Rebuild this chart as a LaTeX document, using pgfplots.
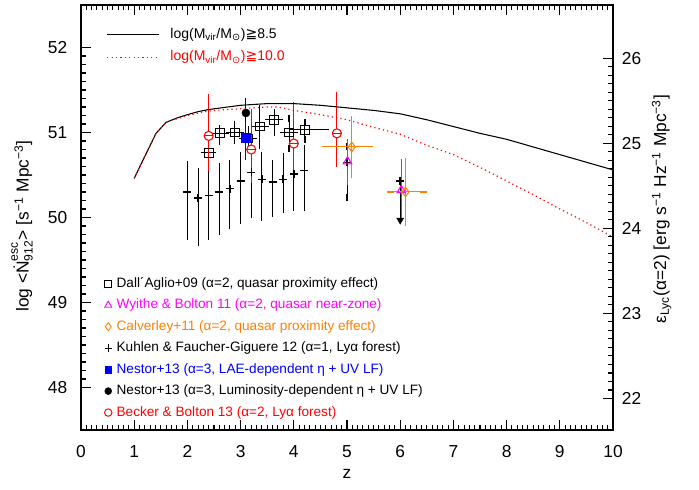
\documentclass[border=0pt]{standalone}
\usepackage{fontspec}
\setmainfont{Liberation Sans}
\newfontfamily\symfont{DejaVu Sans}
\usepackage{amsmath}
\usepackage{pgfplots}
\usepackage{pgfplotstable}
\usetikzlibrary{plotmarks}
\pgfplotsset{compat=1.18}

\definecolor{bbred}{RGB}{255,0,0}
\definecolor{wbmag}{RGB}{255,0,255}
\definecolor{calor}{RGB}{255,128,0}
\definecolor{nesblue}{RGB}{0,0,255}

% circle with a horizontal bar through it
\pgfdeclareplotmark{ominus}{%
  \pgfpathcircle{\pgfpointorigin}{\pgfplotmarksize}%
  \pgfusepathqfillstroke
  \pgfpathmoveto{\pgfpoint{-\pgfplotmarksize}{0pt}}%
  \pgfpathlineto{\pgfpoint{\pgfplotmarksize}{0pt}}%
  \pgfusepathqstroke
}

% model emissivity, two halo-mass thresholds
\pgfplotstableread{
z    v
1.0  50.46
1.2  50.72
1.41 50.99
1.6  51.12
1.8  51.17
2.0  51.21
2.2  51.245
2.4  51.27
3.0  51.32
3.5  51.34
4.0  51.34
4.5  51.32
5.0  51.29
5.5  51.26
6.0  51.22
6.5  51.15
7.0  51.07
7.5  50.99
8.0  50.92
8.5  50.83
9.0  50.74
9.5  50.65
10.0 50.56
}\modelA
\pgfplotstableread{
z    v
1.0  50.46
1.2  50.72
1.41 50.99
1.6  51.12
1.8  51.16
2.0  51.20
2.4  51.255
3.0  51.28
3.5  51.30
3.7  51.30
4.0  51.26
4.5  51.21
5.0  51.15
5.5  51.06
6.0  50.98
6.5  50.85
7.0  50.74
7.5  50.59
8.0  50.43
8.5  50.27
9.0  50.10
9.5  49.94
10.0 49.77
}\modelB

% Kuhlen & Faucher-Giguere 12
\pgfplotstableread{
z    v     ep    em
2.0  50.30 0.32  0.52
2.2  50.23 0.31  0.53
2.4  50.26 0.42  0.48
2.6  50.30 0.30  0.47
2.8  50.34 0.29  0.44
3.0  50.43 0.30  0.47
3.2  50.53 0.31  0.49
3.4  50.45 0.28  0.45
3.6  50.42 0.22  0.37
3.8  50.45 0.27  0.36
4.0  50.51 0.23  0.39
4.2  50.55 0.26  0.43
5.0  50.65 0.18  0.42
6.0  50.43 0.00  0.45
}\kuhlen
\pgfplotstableread{
z    v
6.0  49.97
}\kuhlenlim

% Dall'Aglio+09
\pgfplotstableread{
z     v     xp    xm    ep    em
2.40  50.76 0.08  0.08  0.06  0.06
2.61  50.99 0.10  0.10  0.06  0.10
2.89  51.00 0.10  0.10  0.10  0.10
3.14  50.93 0.10  0.10  0.10  0.10
3.36  51.07 0.10  0.10  0.21  0.22
3.63  51.15 0.10  0.10  0.08  0.15
3.91  51.00 0.10  0.10  0.17  0.19
4.21  51.03 0.39  0.22  0.09  0.11
}\dallaglio

% Becker & Bolton 13
\pgfplotstableread{
z     v     ep    em
2.40  50.96 0.45  0.37
3.20  50.80 0.44  0.35
4.00  50.87 0.45  0.35
4.81  50.99 0.45  0.35
}\becker

% Wyithe & Bolton 11
\pgfplotstableread{
z     v     ep    em
5.01  50.66 0.22  0.24
6.02  50.32 0.33  0.28
}\wyithe

% Calverley+11
\pgfplotstableread{
z     v     xp    xm    ep    em
5.09  50.83 0.34  0.49  0.32  0.32
6.10  50.30 0.33  0.28  0.36  0.36
}\calverley

% Nestor+13
\pgfplotstableread{
z     v     ep    em
3.10  50.94 0.15  0.22
}\nestorlae
\pgfplotstableread{
z     v     ep    em
3.10  51.23 0.13  0.14
}\nestorlum

\begin{document}
\begin{tikzpicture}
\pgfplotsset{
  frame/.style={
    scale only axis, width=399pt, height=318.75pt,
    at={(0,0)}, anchor=south west,
    xmin=0, xmax=10,
    tick align=inside,
    major tick length=7.5pt, minor tick length=3.75pt,
    every tick/.style={black, line width=0.8pt},
    axis line style={line width=1.3pt},
    tick label style={font=\fontsize{13}{15}\selectfont},
    /pgf/number format/assume math mode=true,
    label style={font=\fontsize{13}{15}\selectfont},
  },
  ebar/.style={error bars/.cd, y dir=both, y explicit,
    error bar style={line width=0.75pt, #1},
    error mark=-,
    error mark options={line width=0.8pt, mark size=2.6pt, #1}},
  ebarxy/.style={error bars/.cd, y dir=both, y explicit, x dir=both, x explicit,
    error bar style={line width=0.75pt, #1},
    error mark=-,
    error mark options={line width=0.8pt, mark size=2.6pt, #1}},
}
\begin{axis}[frame,
  ymin=47.5, ymax=52.5,
  xtick={0,...,10}, ytick={48,...,52},
  minor x tick num=9, minor y tick num=9,
  ytick pos=left,
  xticklabel style={anchor=center, yshift=-16pt},
  yticklabel style={anchor=center, xshift=-17.6pt},
  xlabel={z},
  xlabel style={at={(axis description cs:0.5,-0.1035)}, anchor=center},
  ylabel={log <$\text{Ṅ}^{\text{esc}}_{\text{912}}$> [s$^{\text{−1}}$ Mpc$^{\text{−3}}$]},
  ylabel style={at={(axis description cs:-0.111,0.48)}, anchor=center},
  legend image code/.code={\draw[#1] plot coordinates {(0pt,0pt)}; \path[draw=none, fill=none] (0pt,0pt) rectangle (5.3pt,0.1pt);},
  legend cell align=left,
  legend style={at={(axis description cs:0.0362,0.369)}, anchor=north west,
    draw=none, fill=none, font=\fontsize{10.2}{11.5}\selectfont,
    row sep=4.6pt,
    nodes={inner sep=1pt, text height=7.5pt, text depth=2pt}},
]
% data
\addplot[only marks, mark=+, mark size=3pt, line width=1.1pt, black, forget plot,
  ebar=black]
  table[x=z, y=v, y error plus=ep, y error minus=em] {\kuhlen};
\addplot[only marks, mark=triangle*, mark options={rotate=180}, mark size=3pt, black, forget plot]
  table[x=z, y=v] {\kuhlenlim};
\addplot[only marks, mark=square, mark size=3.3pt, line width=0.8pt, black, forget plot,
  ebarxy=black]
  table[x=z, y=v, x error plus=xp, x error minus=xm, y error plus=ep, y error minus=em] {\dallaglio};
\addplot[only marks, mark=ominus, mark size=3.4pt, line width=0.8pt, bbred,
  mark options={fill=white}, forget plot, ebar=bbred]
  table[x=z, y=v, y error plus=ep, y error minus=em] {\becker};
\addplot[only marks, mark=triangle, mark size=3.6pt, line width=0.8pt, wbmag, forget plot,
  ebar=wbmag]
  table[x=z, y=v, y error plus=ep, y error minus=em] {\wyithe};
\addplot[only marks, mark=diamond, mark size=3.6pt, line width=0.8pt, calor, forget plot,
  ebarxy=calor]
  table[x=z, y=v, x error plus=xp, x error minus=xm, y error plus=ep, y error minus=em] {\calverley};
\addplot[only marks, mark=*, mark size=3pt, black, forget plot, ebar=black]
  table[x=z, y=v, y error plus=ep, y error minus=em] {\nestorlum};
\addplot[only marks, mark=square*, mark size=3.3pt, nesblue, forget plot, ebar=nesblue]
  table[x=z, y=v, y error plus=ep, y error minus=em] {\nestorlae};
% models
\addplot[black, line width=0.8pt, forget plot] table[x=z, y=v] {\modelA};
\addplot[bbred, line width=0.9pt, dash pattern=on 0.9pt off 2.4pt, forget plot] table[x=z, y=v] {\modelB};
% key
\addlegendimage{only marks, mark=square, mark size=2.6pt, line width=0.7pt, black}
\addlegendentry{Dall´Aglio+09 (α=2, quasar proximity effect)}
\addlegendimage{only marks, mark=triangle, mark size=3pt, line width=0.7pt, wbmag}
\addlegendentry[text=wbmag]{Wyithe \& Bolton 11 (α=2, quasar near-zone)}
\addlegendimage{only marks, mark=diamond, mark size=3pt, line width=0.7pt, calor}
\addlegendentry[text=calor]{Calverley+11 (α=2, quasar proximity effect)}
\addlegendimage{only marks, mark=+, mark size=2.8pt, line width=0.9pt, black}
\addlegendentry{Kuhlen \& Faucher-Giguere 12 (α=1, Lyα forest)}
\addlegendimage{only marks, mark=square*, mark size=2.6pt, nesblue}
\addlegendentry[text=nesblue]{Nestor+13 (α=3, LAE-dependent η + UV LF)}
\addlegendimage{only marks, mark=*, mark size=2.6pt, black}
\addlegendentry{Nestor+13 (α=3, Luminosity-dependent η + UV LF)}
\addlegendimage{only marks, mark=o, mark size=2.8pt, line width=0.7pt, bbred}
\addlegendentry[text=bbred]{Becker \& Bolton 13 (α=2, Lyα forest)}
\end{axis}

\begin{axis}[frame,
  ymin=21.629, ymax=26.629,
  axis x line=none, axis y line*=right,
  ytick={22,...,26}, minor y tick num=9,
  yticklabel style={anchor=center, xshift=13.9pt},
  ylabel={ε\textsubscript{Lyc}(α=2) [erg s$^{\text{−1}}$ Hz$^{\text{−1}}$ Mpc$^{\text{−3}}$]},
  ylabel style={at={(axis description cs:1.0915,0.52)}, anchor=center, rotate=0},
  legend image code/.code={\draw[#1] (0pt,0pt) -- (39pt,0pt); \path[draw=none, fill=none] (0pt,0pt) rectangle (46.5pt,0.1pt);},
  legend cell align=left,
  legend style={at={(axis description cs:0.040,0.957)}, anchor=north west,
    draw=none, fill=none, font=\fontsize{10.5}{12}\selectfont,
    row sep=4.5pt,
    nodes={inner sep=1pt, text height=8pt, text depth=2.5pt}},
]
\addlegendimage{black, line width=0.8pt}
\addlegendentry{log(M\textsubscript{vir}/M\textsubscript{\symfont ⊙}){\symfont ≧}8.5}
\addlegendimage{bbred, line width=0.9pt, dash pattern=on 0.9pt off 2.4pt}
\addlegendentry[text=bbred]{log(M\textsubscript{vir}/M\textsubscript{\symfont ⊙}){\symfont ≧}10.0}
\end{axis}
\pgfresetboundingbox
\useasboundingbox (-60.75pt,-44.25pt) rectangle (463.5pt,322.5pt);
\end{tikzpicture}
\end{document}
